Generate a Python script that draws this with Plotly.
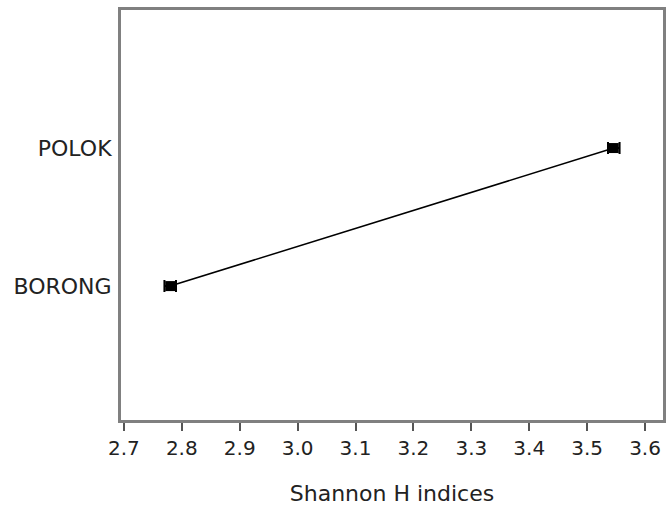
import plotly.graph_objects as go

sites = ["BORONG", "POLOK"]
shannon_h = [2.78, 3.546]
err = [0.01, 0.01]
x_ticks = [2.7, 2.8, 2.9, 3.0, 3.1, 3.2, 3.3, 3.4, 3.5, 3.6]

fig = go.Figure()
fig.add_trace(go.Scatter(
    x=shannon_h, y=list(range(len(sites))),
    mode="lines+markers",
    line=dict(color="black", width=1.5),
    marker=dict(symbol="square", size=10, color="black"),
    error_x=dict(type="data", array=err, color="black", thickness=2, width=6),
    showlegend=False,
))

fig.update_layout(
    width=668, height=508,
    margin=dict(l=121, r=2, t=10, b=88),
    paper_bgcolor="white", plot_bgcolor="white",
    font=dict(family="DejaVu Sans, sans-serif", size=19, color="#222222"),
    xaxis=dict(
        range=[2.695, 3.631], tickvals=x_ticks,
        ticktext=[f"{v:.1f}" for v in x_ticks],
        tickfont=dict(size=20),
        ticks="outside", ticklen=8, tickwidth=2, tickcolor="#555555",
        showline=True, linecolor="#808080", linewidth=3, mirror=True,
        showgrid=False, zeroline=False,
        title=dict(text="Shannon H indices", font=dict(size=22), standoff=27),
    ),
    yaxis=dict(
        range=[-0.97, 2.0], tickvals=list(range(len(sites))), ticktext=sites,
        tickfont=dict(size=22),
        showline=True, linecolor="#808080", linewidth=3, mirror=True,
        showgrid=False, zeroline=False, ticks="", ticklabelstandoff=2,
    ),
)

fig.write_html(
    "out.html",
    config={"displayModeBar": False},
    post_script="document.body.style.margin='0';document.body.style.overflow='hidden';",
)
